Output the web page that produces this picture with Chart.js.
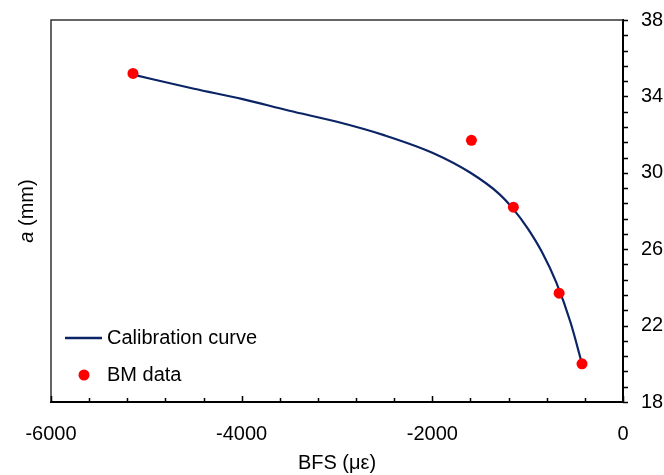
<!DOCTYPE html>
<html>
<head>
<meta charset="utf-8">
<script src="https://cdn.jsdelivr.net/npm/chart.js@4.4.1/dist/chart.umd.min.js"></script>
<style>
  html, body { margin: 0; padding: 0; background: #fff; }
  #wrap { width: 664px; height: 475px; }
</style>
</head>
<body>
<div id="wrap"><canvas id="chart" width="664" height="475"></canvas></div>
<script>
// calibration curve
var curveX = [-5150, -4500, -4000, -3500, -3000, -2500, -2000, -1600, -1300, -1150, -1000, -850, -700, -550, -430];
var curveY = [35.15, 34.4, 33.87, 33.25, 32.67, 31.96, 31.05, 30.0, 28.9, 28.1, 27.09, 25.85, 24.26, 22.16, 20.0];
// BM data points
var bmX = [-5140, -1590, -1150, -670, -430];
var bmY = [35.2, 31.7, 28.2, 23.7, 20.0];

var xMin = -6000, xMax = 0, xStep = 2000, xMinor = 400;
var yMin = 18, yMax = 38, yStep = 4, yMinor = 0.8;

var FONT = "'Liberation Sans', Arial, sans-serif";
var lineColor = '#0b2466';
var dotColor = '#ff0000';

function toPoints(xs, ys){
  var pts = [];
  for(var i=0;i<xs.length;i++) pts.push({x: xs[i], y: ys[i]});
  return pts;
}

// frame (top + left edges), tick marks, y title and legend
var framePlugin = {
  id: 'frame',
  afterDraw: function(chart){
    var ctx = chart.ctx, a = chart.chartArea;
    var xs = chart.scales.x, ys = chart.scales.y;
    ctx.save();
    ctx.strokeStyle = '#333';
    ctx.lineWidth = 1.5;
    ctx.beginPath();
    ctx.moveTo(a.left, a.bottom);
    ctx.lineTo(a.left, a.top);
    ctx.lineTo(a.right, a.top);
    ctx.stroke();

    ctx.strokeStyle = '#000';
    ctx.lineWidth = 1.5;
    ctx.beginPath();
    // x ticks point up into the plot
    for(var v=xMin; v<=xMax+0.001; v+=xMinor){
      var px = Math.round(xs.getPixelForValue(v)) + 0.5;
      var major = Math.abs(v % xStep) < 0.001;
      ctx.moveTo(px, a.bottom);
      ctx.lineTo(px, a.bottom - (major ? 6 : 4));
    }
    // y ticks point out to the right
    for(var w=yMin; w<=yMax+0.001; w+=yMinor){
      var py = Math.round(ys.getPixelForValue(w)) + 0.5;
      ctx.moveTo(a.right, py);
      ctx.lineTo(a.right + 5, py);
    }
    ctx.stroke();

    // y title on the left side, "a" in italics
    ctx.fillStyle = '#000';
    ctx.translate(27, (a.top + a.bottom)/2);
    ctx.rotate(-Math.PI/2);
    ctx.textBaseline = 'middle';
    ctx.textAlign = 'left';
    var t1 = 'a', t2 = ' (mm)';
    ctx.font = 'italic 20px ' + FONT;
    var w1 = ctx.measureText(t1).width;
    ctx.font = '20px ' + FONT;
    var w2 = ctx.measureText(t2).width;
    var start = -(w1 + w2)/2;
    ctx.font = 'italic 20px ' + FONT;
    ctx.fillText(t1, start, 0);
    ctx.font = '20px ' + FONT;
    ctx.fillText(t2, start + w1, 0);
    ctx.restore();

    // legend inside the plot, lower left
    var ds = chart.data.datasets;
    ctx.save();
    ctx.font = '20px ' + FONT;
    ctx.textBaseline = 'middle';
    ctx.fillStyle = '#000';
    ctx.strokeStyle = lineColor;
    ctx.lineWidth = 2.5;
    ctx.beginPath();
    ctx.moveTo(65, 338);
    ctx.lineTo(102, 338);
    ctx.stroke();
    ctx.fillText(ds[0].label, 107, 338);
    ctx.fillStyle = dotColor;
    ctx.beginPath();
    ctx.arc(84, 375, 5.5, 0, Math.PI*2);
    ctx.fill();
    ctx.fillStyle = '#000';
    ctx.fillText(ds[1].label, 107, 375);
    ctx.restore();
  }
};

var ctx = document.getElementById('chart').getContext('2d');
var myChart = new Chart(ctx, {
  type: 'scatter',
  data: {
    datasets: [{
      label: 'Calibration curve',
      data: toPoints(curveX, curveY),
      showLine: true,
      borderColor: lineColor,
      borderWidth: 2.2,
      pointRadius: 0,
      cubicInterpolationMode: 'monotone',
      order: 2
    },{
      label: 'BM data',
      data: toPoints(bmX, bmY),
      backgroundColor: dotColor,
      borderColor: dotColor,
      pointRadius: 5.5,
      borderWidth: 0,
      order: 1
    }]
  },
  options: {
    responsive: false,
    animation: false,
    layout: { padding: { left: 51, top: 20, right: 0, bottom: 0 } },
    plugins: { legend: { display: false }, tooltip: { enabled: false } },
    scales: {
      x: {
        type: 'linear',
        min: xMin, max: xMax,
        ticks: { stepSize: xStep, color: '#000', font: { family: FONT, size: 20 }, padding: 20,
                 callback: function(val){ return String(val); } },
        grid: { display: true, drawOnChartArea: false, drawTicks: false },
        border: { display: true, color: '#000', width: 2 },
        title: { display: true, text: 'BFS (με)', color: '#000', font: { family: FONT, size: 20 }, padding: { top: 0, bottom: 0 } },
        afterFit: function(s){ s.height = 73; }
      },
      y: {
        type: 'linear',
        position: 'right',
        min: yMin, max: yMax,
        ticks: { stepSize: yStep, color: '#000', font: { family: FONT, size: 20 }, padding: 6 },
        grid: { display: true, drawOnChartArea: false, drawTicks: true, tickLength: 12, tickColor: 'rgba(0,0,0,0)' },
        border: { display: true, color: '#000', width: 2 },
        afterFit: function(s){ s.width = 41; }
      }
    }
  },
  plugins: [framePlugin]
});
</script>
</body>
</html>
